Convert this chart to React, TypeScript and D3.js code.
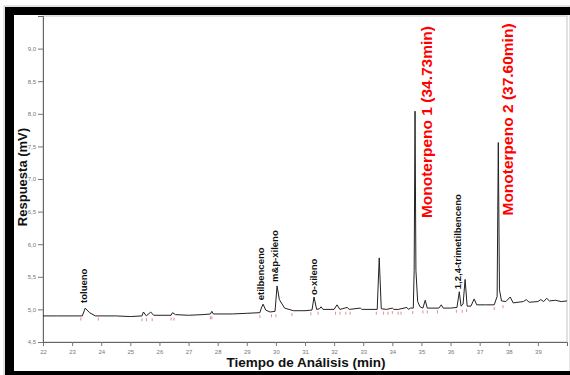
import { useRef, useEffect } from "react";
import * as d3 from "d3";

// chromatogram trace (min, mV)
const traceTime = [
  22.0, 22.5, 23.0, 23.35, 23.45, 23.6, 23.8, 24.5, 25.0, 25.4, 25.45, 25.55, 25.7, 25.8,
  26.4, 26.45, 26.55, 27.0, 27.5, 27.75, 27.8, 27.85, 28.5, 29.0, 29.45, 29.5, 29.56,
  29.65, 29.8, 29.97, 30.04, 30.12, 30.3, 30.6, 31.0, 31.24, 31.31, 31.4, 31.5, 31.55,
  31.62, 32.0, 32.1, 32.2, 32.45, 32.52, 32.9, 32.95, 33.0, 33.48, 33.55, 33.62, 33.8,
  34.0, 34.05, 34.2, 34.5, 34.55, 34.62, 34.72, 34.75, 34.78, 34.81, 34.87, 34.95, 35.05,
  35.13, 35.2, 35.6, 35.68, 35.75, 36.0, 36.22, 36.3, 36.36, 36.43, 36.5, 36.57, 36.7,
  36.81, 36.9, 37.2, 37.5, 37.6, 37.64, 37.68, 37.75, 37.9, 38.05, 38.15, 38.5, 38.6,
  38.7, 39.0, 39.1, 39.2, 39.3, 39.4, 39.6, 39.8, 40.0,
];
const traceMv = [
  4.9, 4.9, 4.9, 4.9, 5.02, 4.95, 4.9, 4.9, 4.89, 4.9, 4.96, 4.9, 4.96, 4.91,
  4.91, 4.95, 4.92, 4.91, 4.92, 4.93, 4.97, 4.93, 4.93, 4.94, 4.95, 5.02, 5.08,
  4.99, 4.96, 4.97, 5.36, 5.15, 5.02, 4.98, 4.98, 4.99, 5.19, 5.0, 5.01, 5.04,
  5.0, 5.0, 5.07, 5.0, 5.03, 5.0, 5.02, 5.0, 5.0, 5.0, 5.79, 5.01, 5.0,
  5.02, 5.0, 5.0, 5.03, 5.0, 5.02, 5.02, 5.6, 8.04, 5.6, 5.12, 5.04, 5.02,
  5.14, 5.02, 5.02, 5.07, 5.02, 5.02, 5.03, 5.27, 5.05, 5.08, 5.46, 5.05, 5.05,
  5.16, 5.07, 5.07, 5.07, 5.2, 7.56, 5.3, 5.13, 5.12, 5.19, 5.1, 5.12, 5.15,
  5.11, 5.12, 5.15, 5.12, 5.17, 5.13, 5.14, 5.12, 5.13,
];

// integration marks (red ticks under the baseline)
const markTime = [
  23.3, 23.9, 25.4, 25.55, 25.75, 26.4, 26.5, 27.75, 27.8, 29.45, 29.85, 30.0, 30.55,
  31.2, 31.45, 32.05, 32.2, 32.4, 32.55, 33.45, 33.7, 33.85, 34.0, 34.2, 34.3, 34.7,
  35.05, 35.2, 35.55, 36.2, 36.4, 36.55, 37.5, 37.8,
];
const markMv = [
  4.89, 4.89, 4.88, 4.88, 4.88, 4.89, 4.89, 4.91, 4.91, 4.93, 4.94, 4.94, 4.96,
  4.97, 4.98, 4.98, 4.98, 4.98, 4.98, 4.98, 4.98, 4.98, 4.99, 4.98, 4.98, 4.99,
  5.0, 5.0, 5.0, 5.01, 5.01, 5.02, 5.05, 5.08,
];

// peak labels: text, anchor time, bottom value
const peakNames = ["tolueno", "etilbenceno", "m&p-xileno", "o-xileno", "1,2,4-trimetilbenceno"];
const peakTime = [23.5, 29.6, 30.07, 31.4, 36.36];
const peakBase = [5.1, 5.14, 5.42, 5.22, 5.31];

const monoNames = ["Monoterpeno 1 (34.73min)", "Monoterpeno 2 (37.60min)"];
const monoTime = [35.37, 38.15];
const monoBase = [6.4, 6.44];

const xTicks = [22, 23, 24, 25, 26, 27, 28, 29, 30, 31, 32, 33, 34, 35, 36, 37, 38, 39];
const yTicks = [4.5, 5.0, 5.5, 6.0, 6.5, 7.0, 7.5, 8.0, 8.5, 9.0];

const W = 570;
const H = 375;
const FONT = "'Liberation Sans', Arial, sans-serif";

export default function App() {
  const svgRef = useRef<SVGSVGElement>(null);

  useEffect(() => {
    if (!svgRef.current) return;
    const svg = d3.select(svgRef.current);
    svg.selectAll("*").remove();

    const plot = { left: 43, right: 567, top: 16, bottom: 342 };
    const x = d3.scaleLinear().domain([22, 40]).range([plot.left, plot.right]);
    const y = d3.scaleLinear().domain([4.5, 9.5]).range([plot.bottom, plot.top]);

    svg.append("rect").attr("width", W).attr("height", H).attr("fill", "#fff");

    // black frame (top, left, bottom)
    svg.append("rect").attr("x", 4).attr("y", 6).attr("width", W - 4).attr("height", H).attr("fill", "none").attr("stroke", "#c8c8c8");
    svg.append("rect").attr("x", 5).attr("y", 7).attr("width", W - 5).attr("height", 8).attr("fill", "#000");
    svg.append("rect").attr("x", 5).attr("y", 7).attr("width", 9).attr("height", H - 7).attr("fill", "#000");
    svg.append("rect").attr("x", 5).attr("y", 371).attr("width", W - 5).attr("height", 4).attr("fill", "#000");

    // plot border
    svg.append("rect")
      .attr("x", plot.left)
      .attr("y", plot.top)
      .attr("width", plot.right - plot.left)
      .attr("height", plot.bottom - plot.top)
      .attr("fill", "none")
      .attr("stroke", "#c4c4c4")
      .attr("stroke-width", 1);

    // minor ticks
    const gx = svg.append("g").attr("transform", `translate(0,${plot.bottom})`);
    gx.call(d3.axisBottom(x).tickValues(d3.range(22, 40.001, 0.1)).tickSize(2).tickFormat(() => ""));
    gx.call(d3.axisBottom(x).tickValues(d3.range(22.5, 40, 1)).tickSize(3).tickFormat(() => ""));
    gx.call(d3.axisBottom(x).tickValues(xTicks).tickSize(4).tickPadding(4).tickFormat(d3.format("d")));
    gx.selectAll(".domain").attr("stroke", "#666");
    gx.selectAll("line").attr("stroke", "#777");
    gx.selectAll("text").attr("fill", "#777").attr("font-size", 6).attr("font-family", FONT);

    const gy = svg.append("g").attr("transform", `translate(${plot.left},0)`);
    gy.call(d3.axisLeft(y).tickValues(d3.range(4.5, 9.45, 0.1)).tickSize(2).tickFormat(() => ""));
    gy.call(
      d3.axisLeft(y)
        .tickValues(yTicks)
        .tickSize(5)
        .tickPadding(2)
        .tickFormat((d) => d3.format(".1f")(d as number).replace(".", ",")),
    );
    gy.selectAll(".domain").attr("stroke", "#666");
    gy.selectAll("line").attr("stroke", "#777");
    gy.selectAll("text").attr("fill", "#777").attr("font-size", 6).attr("font-family", FONT);

    // integration marks
    svg.append("g")
      .selectAll("line")
      .data(markTime)
      .join("line")
      .attr("x1", (d) => x(d))
      .attr("x2", (d) => x(d))
      .attr("y1", (_, i) => y(markMv[i]) + 1)
      .attr("y2", (_, i) => y(markMv[i]) + 4)
      .attr("stroke", "#e07070")
      .attr("stroke-width", 0.8);

    // trace
    const line = d3
      .line<number>()
      .x((d) => x(d))
      .y((_, i) => y(traceMv[i]));
    svg.append("path")
      .attr("d", line(traceTime))
      .attr("fill", "none")
      .attr("stroke", "#222")
      .attr("stroke-width", 1)
      .attr("stroke-linejoin", "round");

    // peak labels
    svg.append("g")
      .selectAll("text")
      .data(peakNames)
      .join("text")
      .attr("transform", (_, i) => `translate(${x(peakTime[i])},${y(peakBase[i])}) rotate(-90)`)
      .attr("font-family", FONT)
      .attr("font-weight", "bold")
      .attr("font-size", 9.5)
      .attr("fill", "#111")
      .text((d) => d);

    svg.append("g")
      .selectAll("text")
      .data(monoNames)
      .join("text")
      .attr("transform", (_, i) => `translate(${x(monoTime[i])},${y(monoBase[i])}) rotate(-90)`)
      .attr("font-family", FONT)
      .attr("font-weight", "bold")
      .attr("font-size", 15.5)
      .attr("fill", "#ff0000")
      .text((d) => d);

    // axis titles
    svg.append("text")
      .attr("x", 306)
      .attr("y", 367)
      .attr("text-anchor", "middle")
      .attr("font-family", FONT)
      .attr("font-weight", "bold")
      .attr("font-size", 13.5)
      .attr("fill", "#111")
      .text("Tiempo de Análisis (min)");

    svg.append("text")
      .attr("transform", `translate(27,177) rotate(-90)`)
      .attr("text-anchor", "middle")
      .attr("font-family", FONT)
      .attr("font-weight", "bold")
      .attr("font-size", 13)
      .attr("fill", "#111")
      .text("Respuesta (mV)");
  }, []);

  return (
    <svg
      ref={svgRef}
      width={W}
      height={H}
      style={{ position: "fixed", left: 0, top: 0, display: "block" }}
    />
  );
}
